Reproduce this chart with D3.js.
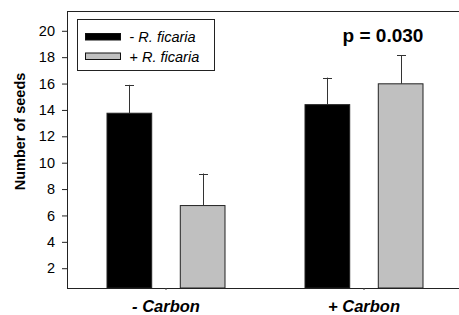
<!DOCTYPE html>
<html lang="en">
<head>
  <meta charset="UTF-8">
  <title>Number of seeds</title>
  <script src="https://d3js.org/d3.v7.min.js"></script>
  <style>
    body { margin: 0; background: #fff; }
    svg { display: block; font-family: Arial, "Liberation Sans", sans-serif; }
    .tick text { font-size: 14.5px; fill: #000; }
  </style>
</head>
<body>
  <svg width="459" height="315"></svg>
  <script>
    const groups = ["- Carbon", "+ Carbon"];
    const seriesNames = ["- R. ficaria", "+ R. ficaria"];
    const seriesColors = ["#000000", "#c0c0c0"];
    const minusFicaria = [13.75, 14.4];
    const plusFicaria = [6.75, 15.98];
    const minusFicariaErr = [2.15, 2.05];
    const plusFicariaErr = [2.43, 2.18];
    const yTicks = [2, 4, 6, 8, 10, 12, 14, 16, 18, 20];

    const values = [minusFicaria, plusFicaria];
    const errors = [minusFicariaErr, plusFicariaErr];

    const svg = d3.select("svg");
    const padL = 67, padT = 11, plotW = 396, baseY = 288;

    const x = d3.scaleBand().domain(groups).range([padL, padL + plotW]);
    const xs = d3.scaleBand().domain([0, 1]).range([-59, 59]).paddingInner(0.39);
    const y = d3.scaleLinear().domain([0.5, 21.5]).range([baseY, padT]);

    // frame: top line
    svg.append("line")
      .attr("x1", padL).attr("x2", padL + plotW)
      .attr("y1", padT + 0.5).attr("y2", padT + 0.5)
      .attr("stroke", "#222").attr("stroke-width", 1);

    // bars
    const rows = [];
    groups.forEach((g, gi) => {
      values.forEach((v, si) => rows.push({ g, si, v: v[gi], e: errors[si][gi] }));
    });

    const barG = svg.append("g");
    barG.selectAll("rect")
      .data(rows)
      .enter().append("rect")
      .attr("x", d => x(d.g) + x.bandwidth() / 2 + xs(d.si))
      .attr("y", d => y(d.v))
      .attr("width", xs.bandwidth())
      .attr("height", d => baseY - y(d.v))
      .attr("fill", d => seriesColors[d.si])
      .attr("stroke", "#222")
      .attr("stroke-width", 1);

    // error bars (upper only)
    const errG = barG.selectAll(".err")
      .data(rows)
      .enter().append("g")
      .attr("class", "err")
      .attr("stroke", "#333")
      .attr("stroke-width", 1);
    const cx = d => Math.round(x(d.g) + x.bandwidth() / 2 + xs(d.si) + xs.bandwidth() / 2) + 0.5;
    errG.append("line")
      .attr("x1", cx).attr("x2", cx)
      .attr("y1", d => y(d.v)).attr("y2", d => y(d.v + d.e));
    errG.append("line")
      .attr("x1", d => cx(d) - 4.5).attr("x2", d => cx(d) + 4.5)
      .attr("y1", d => Math.round(y(d.v + d.e)) + 0.5).attr("y2", d => Math.round(y(d.v + d.e)) + 0.5);

    // axes
    const yAxis = svg.append("g")
      .attr("transform", `translate(${padL},0)`)
      .call(d3.axisLeft(y).tickValues(yTicks).tickSize(5).tickPadding(7).tickFormat(d3.format("d")));
    yAxis.select(".domain").attr("d", `M0.5,${padT}V${baseY}`).attr("stroke", "#222");
    yAxis.selectAll(".tick line").attr("stroke", "#222");

    const xAxis = svg.append("g")
      .attr("transform", `translate(0,${baseY})`)
      .call(d3.axisBottom(x).tickSize(2).tickFormat(""));
    xAxis.select(".domain").attr("d", `M${padL},0.5H${padL + plotW}`).attr("stroke", "#222");
    xAxis.selectAll(".tick line").attr("stroke", "#444");

    svg.selectAll(".xlab")
      .data(groups)
      .enter().append("text")
      .attr("x", d => x(d) + x.bandwidth() / 2)
      .attr("y", 312)
      .attr("text-anchor", "middle")
      .attr("font-size", 16.5)
      .attr("font-weight", "bold")
      .attr("font-style", "italic")
      .text(d => d);

    svg.append("text")
      .attr("transform", "translate(25,131.5) rotate(-90)")
      .attr("text-anchor", "middle")
      .attr("font-size", 14.5)
      .attr("font-weight", "bold")
      .text("Number of seeds");

    svg.append("text")
      .attr("x", 383).attr("y", 42)
      .attr("text-anchor", "middle")
      .attr("font-size", 19)
      .attr("font-weight", "bold")
      .text("p = 0.030");

    // legend
    const lg = svg.append("g").attr("transform", "translate(77.5,19.5)");
    lg.append("rect").attr("width", 137).attr("height", 51)
      .attr("fill", "#fff").attr("stroke", "#222");
    seriesNames.forEach((name, i) => {
      const row = lg.append("g").attr("transform", `translate(8,${14 + i * 19.5})`);
      row.append("rect").attr("width", 35).attr("height", 6.5)
        .attr("fill", seriesColors[i]).attr("stroke", "#111");
      const t = row.append("text").attr("x", 44).attr("y", 8.5).attr("font-size", 14.5);
      t.append("tspan").text(name.slice(0, 2));
      t.append("tspan").attr("font-style", "italic").text(name.slice(2));
    });
  </script>
</body>
</html>
